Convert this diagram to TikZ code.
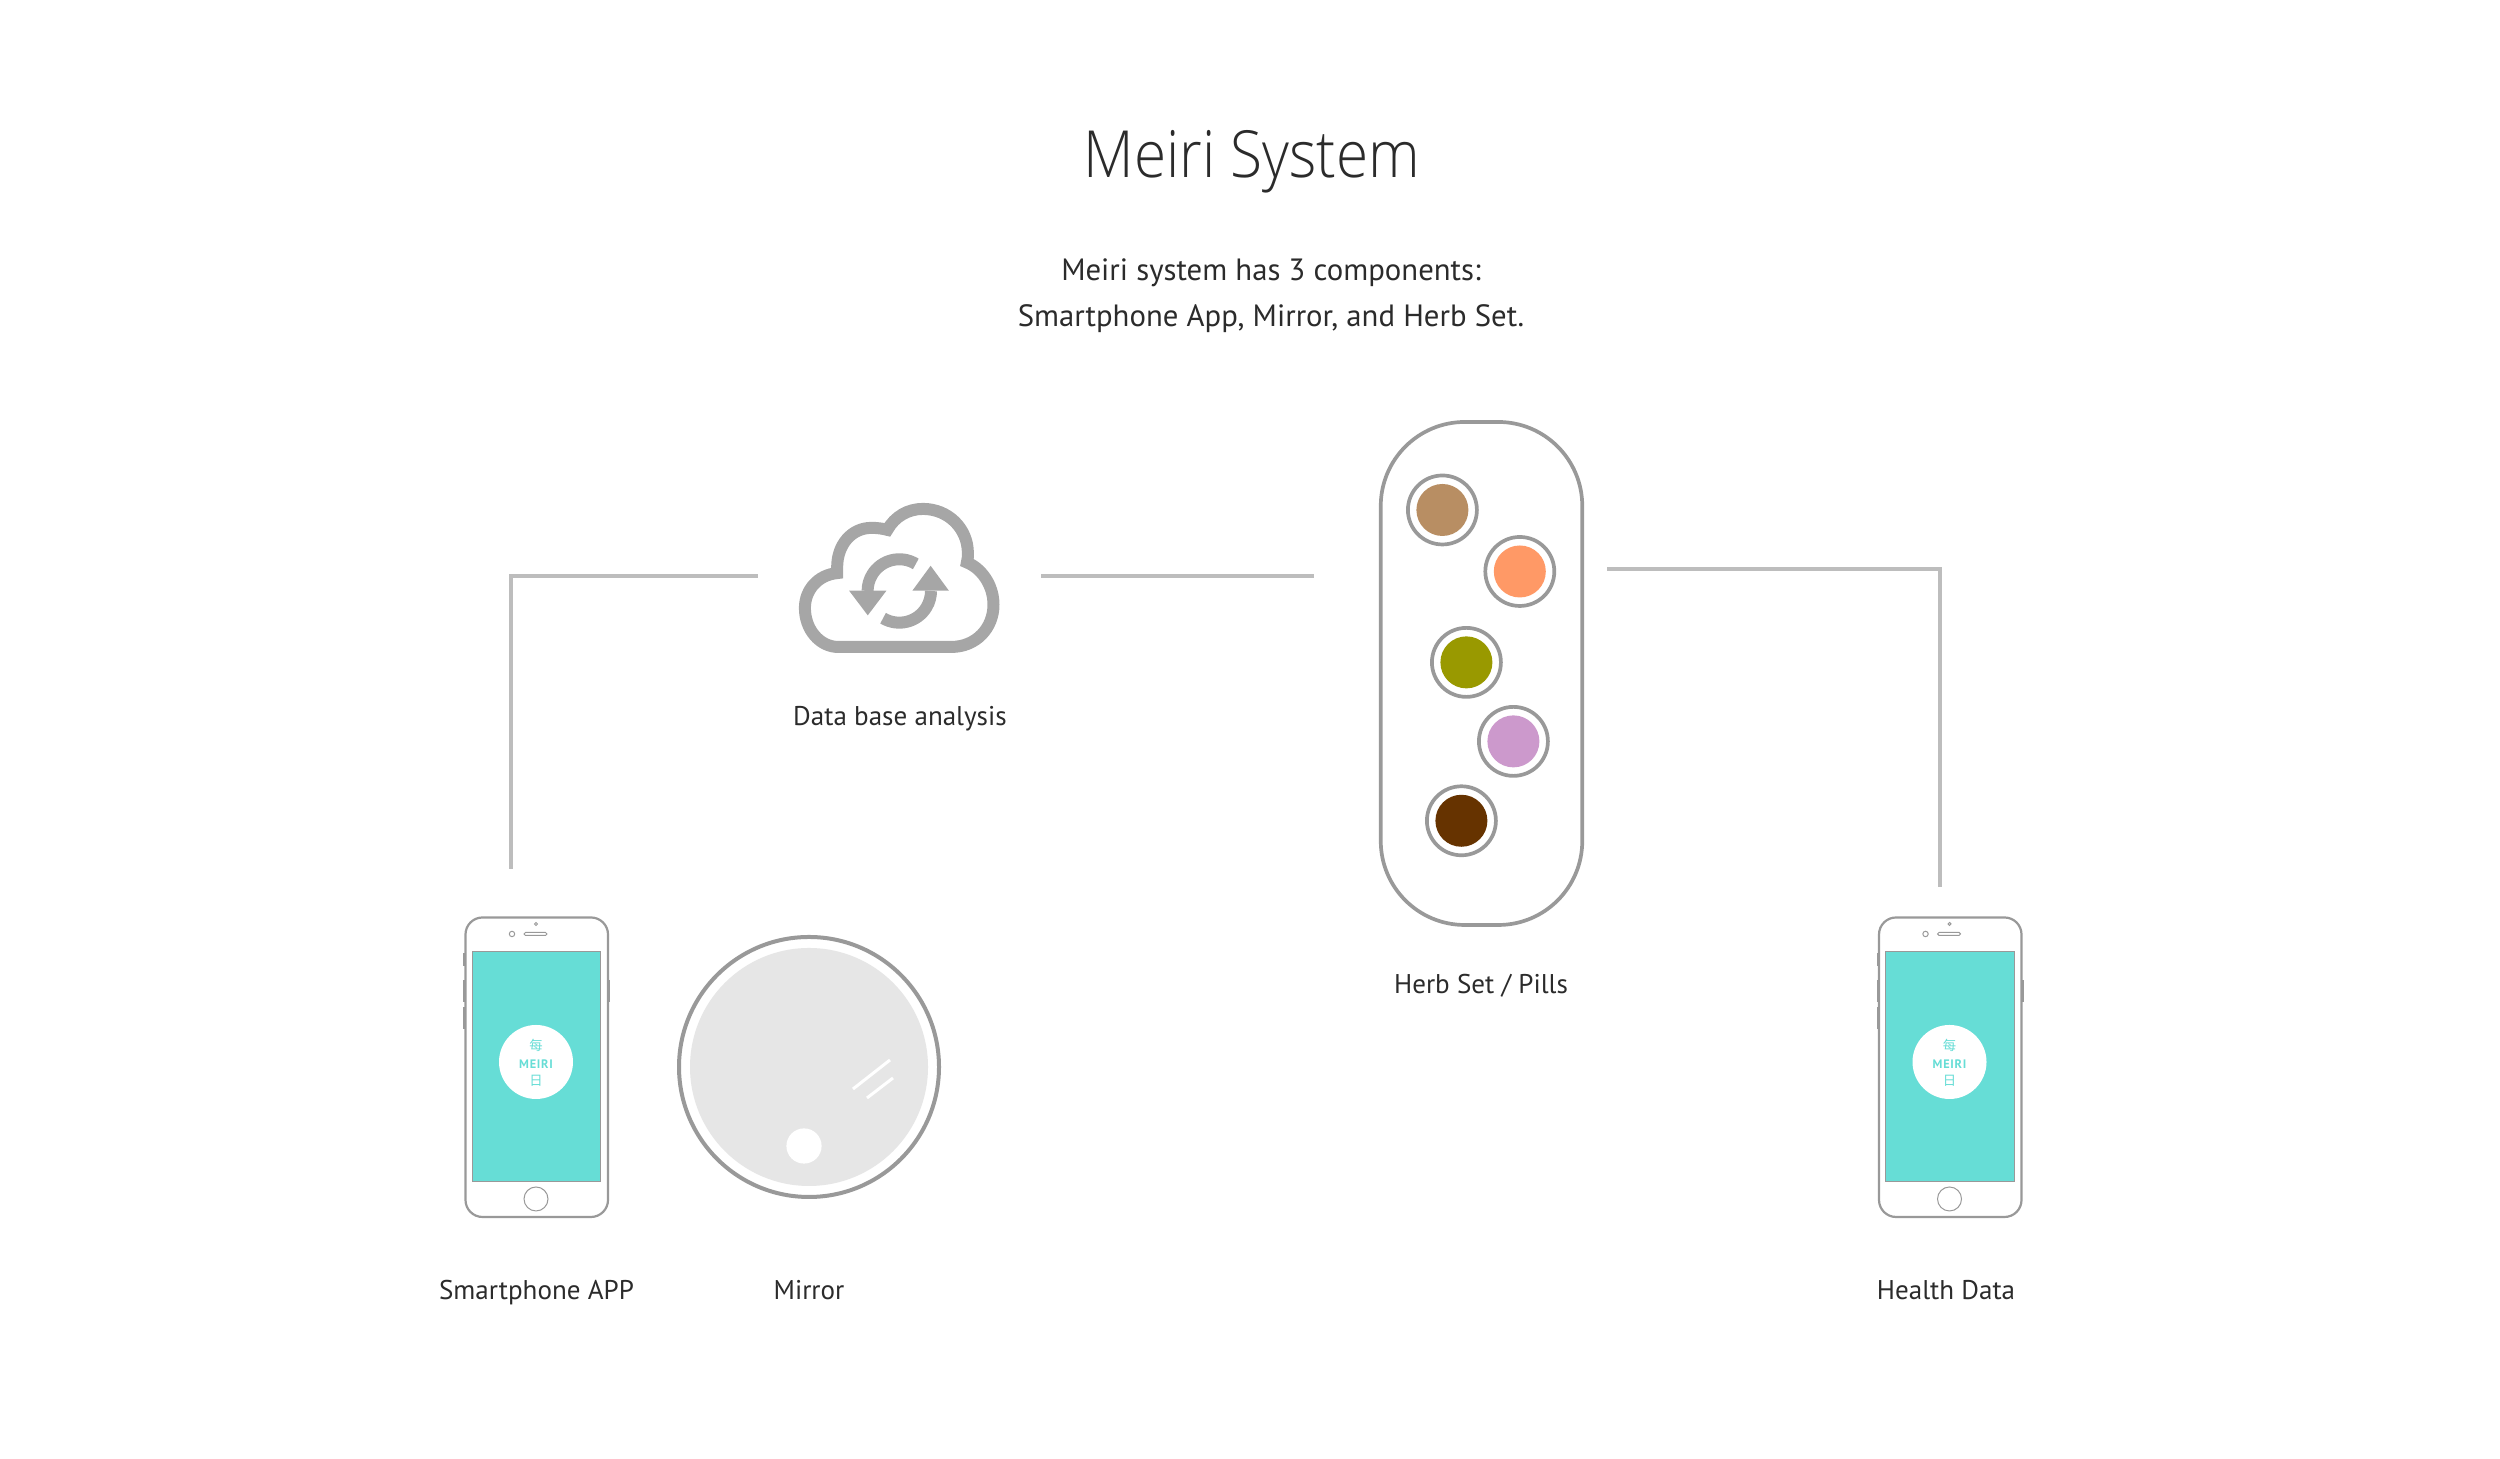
\documentclass[tikz,border=0pt]{standalone}
\usepackage{fontspec}
\setmainfont{PT Sans}
\newfontfamily\titlefont[FakeStretch=0.9]{Open Sans Light}
\newfontfamily\logofont[LetterSpace=6]{PT Sans Bold}
\newfontfamily\cjk{Noto Sans CJK SC}
\definecolor{mgline}{HTML}{BDBDBD}
\definecolor{mgoutline}{HTML}{999999}
\definecolor{mgcloud}{HTML}{A6A6A6}
\definecolor{mgscreen}{HTML}{66DDD6}
\definecolor{mgmirror}{HTML}{E6E6E6}
\definecolor{mgink}{HTML}{2B2B2B}
\definecolor{mgtan}{HTML}{B88E63}
\definecolor{mgorange}{HTML}{FF9966}
\definecolor{mgolive}{HTML}{999900}
\definecolor{mglilac}{HTML}{CC99CC}
\definecolor{mgbrown}{HTML}{663300}
\usetikzlibrary{positioning}
\tikzset{
  wire/.style={mgline, line width=0.04cm},
  intro/.style={font=\fontsize{8.75pt}{10pt}\selectfont, text=mgink, inner sep=0pt, anchor=base},
  caption/.style={font=\fontsize{7.7pt}{10pt}\selectfont, text=mgink, inner sep=0pt, anchor=base},
  logotext/.style={text=mgscreen, inner sep=0pt},
  pillring/.style={circle, draw=mgoutline, line width=0.037cm, fill=white, minimum size=0.69cm, inner sep=0pt},
  pilldot/.style={circle, minimum size=0.52cm, inner sep=0pt},
  phoneline/.style={draw=mgoutline, line width=0.022cm},
  phonethin/.style={draw=mgoutline, line width=0.01cm},
  cloudstroke/.style={mgcloud, line width=0.12cm}
}
\begin{document}
\begin{tikzpicture}
\useasboundingbox (0,0) rectangle (25,14.59);

% --- Headline ---
\node[font=\titlefont\fontsize{18.5pt}{22pt}\selectfont, text=mgink, inner sep=0pt, anchor=base] (title) at (12.52,12.81) {Meiri System};
\node[intro] (intro1) at (12.71,11.78) {Meiri system has 3 components:};
\node[intro] (intro2) at (12.71,11.32) {Smartphone App, Mirror, and Herb Set.};

% --- Phones ---
\foreach \phonex/\phonename in {0/left,14.135/right}{
\begin{scope}[xshift=\phonex cm]
  % side buttons
  \fill[mgoutline] (4.63,5.06) rectangle (4.66,4.93);
  \fill[mgoutline] (4.63,4.79) rectangle (4.66,4.57);
  \fill[mgoutline] (4.63,4.52) rectangle (4.66,4.30);
  \fill[mgoutline] (6.07,4.79) rectangle (6.10,4.57);
  % body
  \draw[phoneline, fill=white, rounded corners=0.17cm] (4.655,2.42) rectangle (6.08,5.415);
  \draw[phonethin, fill=mgscreen] (4.72,2.77) rectangle (6.005,5.07);
  % earpiece, camera, home button
  \draw[phonethin] (5.36,5.35) circle (0.015);
  \draw[phonethin] (5.12,5.25) circle (0.027);
  \draw[phonethin, rounded corners=0.015cm] (5.24,5.235) rectangle (5.47,5.265);
  \draw[phonethin, fill=white] (5.36,2.60) circle (0.12);
  % logo
  \fill[white] (5.36,3.97) circle (0.37);
  \node[logotext, font=\cjk\fontsize{3.8pt}{4pt}\selectfont] (logo-top-\phonename) at (5.36,4.135) {每};
  \node[logotext, font=\logofont\fontsize{3.5pt}{4pt}\selectfont] (logo-name-\phonename) at (5.36,3.95) {MEIRI};
  \node[logotext, font=\cjk\fontsize{3.8pt}{4pt}\selectfont] (logo-bottom-\phonename) at (5.36,3.78) {日};
\end{scope}
}

% --- Mirror ---
\draw[mgoutline, line width=0.04cm, fill=white] (8.09,3.92) circle (1.30);
\fill[mgmirror] (8.09,3.92) circle (1.19);
\fill[white] (8.04,3.13) circle (0.176);
\draw[white, line width=0.03cm] (8.53,3.70) -- (8.90,3.99);
\draw[white, line width=0.03cm] (8.67,3.61) -- (8.93,3.81);

% --- Cloud ---
\begin{scope}[shift={(7.6,9.79)}, x=0.0033333cm, y=-0.0033333cm]
  \draw[cloudstroke, miter limit=4] (235,502) -- (575,502)
    .. controls (650,502) and (702,445) .. (702,375)
    .. controls (702,315) and (665,265) .. (622,248)
    .. controls (625,238) and (625,230) .. (625,220)
    .. controls (625,145) and (565,87) .. (490,87)
    .. controls (445,87) and (405,110) .. (383,150)
    .. controls (368,146) and (352,144) .. (335,144)
    .. controls (275,144) and (232,195) .. (232,262)
    .. controls (232,268) and (232,274) .. (232,280)
    .. controls (175,285) and (135,330) .. (135,385)
    .. controls (135,450) and (180,502) .. (235,502) -- cycle;
  \fill[mgcloud] (268,333) -- (380,333) -- (324,407) -- cycle;
  \fill[mgcloud] (458,333) -- (568,333) -- (513,258) -- cycle;
\end{scope}
\coordinate (sync) at (8.993,8.68);
\draw[cloudstroke] ([shift={(58.6:0.317)}]sync) arc (58.6:180:0.317);
\draw[cloudstroke] ([shift={(239.2:0.317)}]sync) arc (239.2:360:0.317);

% --- Herb set ---
\node[draw=mgoutline, line width=0.037cm, rounded corners=0.84cm, minimum width=2.015cm, minimum height=5.03cm] (herbset) at (14.815,7.855) {};
\node[pillring] (ring1) at (14.424,9.49) {};
\node[pillring] (ring2) at (15.198,8.875) {};
\node[pillring] (ring3) at (14.664,7.966) {};
\node[pillring] (ring4) at (15.134,7.176) {};
\node[pillring] (ring5) at (14.614,6.382) {};
\node[pilldot, fill=mgtan] (pill1) at (ring1) {};
\node[pilldot, fill=mgorange] (pill2) at (ring2) {};
\node[pilldot, fill=mgolive] (pill3) at (ring3) {};
\node[pilldot, fill=mglilac] (pill4) at (ring4) {};
\node[pilldot, fill=mgbrown] (pill5) at (ring5) {};

% --- Captions ---
\node[caption] (cloud-label) at (9.00,7.335) {Data base analysis};
\node[caption] (herb-label) at (14.81,4.65) {Herb Set / Pills};
\node[caption] (app-label) at (5.365,1.59) {Smartphone APP};
\node[caption] (mirror-label) at (8.09,1.59) {Mirror};
\node[caption] (health-label) at (19.46,1.59) {Health Data};

% --- Links ---
\coordinate (app-link) at (5.11,5.90);
\coordinate (cloud-in) at (7.58,8.825);
\coordinate (cloud-out) at (10.41,8.825);
\coordinate (herb-in) at (13.14,8.825);
\coordinate (herb-out) at (16.07,8.90);
\coordinate (health-link) at (19.40,5.72);
\draw[wire] (app-link) |- (cloud-in);
\draw[wire] (cloud-out) -- (herb-in);
\draw[wire] (herb-out) -| (health-link);

\end{tikzpicture}
\end{document}
